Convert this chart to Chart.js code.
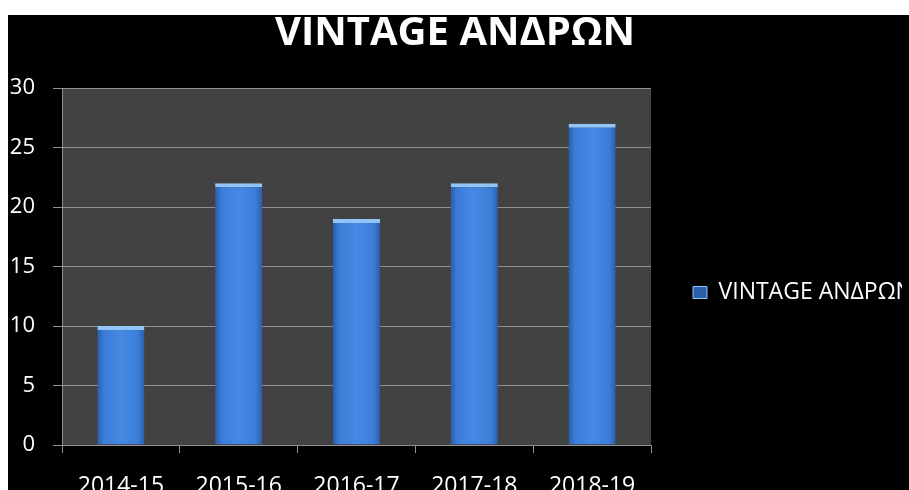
<!DOCTYPE html>
<html>
<head>
<meta charset="utf-8">
<script src="https://cdn.jsdelivr.net/npm/chart.js@4/dist/chart.umd.min.js"></script>
<style>
  html, body { margin: 0; padding: 0; background: #fff; overflow: hidden; width: 909px; height: 490px; }
  #wrap { position: absolute; left: 8px; top: 15px; width: 960px; height: 555px; background: #000; }
</style>
</head>
<body>
<div id="wrap"><canvas id="chart"></canvas></div>
<script>
const titel = "VINTAGE ΑΝΔΡΩΝ";
const jahre = ["2014-15", "2015-16", "2016-17", "2017-18", "2018-19"];
const werte = [10, 22, 19, 22, 27];
const yTicks = [0, 5, 10, 15, 20, 25, 30];

const schrift = "'Open Sans', 'DejaVu Sans', sans-serif";
const gitter = "#909090";

// dunkles Feld hinter den Balken
const plotHintergrund = {
  id: "plotHintergrund",
  beforeDraw(chart) {
    const a = chart.chartArea;
    const c = chart.ctx;
    c.save();
    c.fillStyle = "#424242";
    c.fillRect(a.left, a.top, a.right - a.left, a.bottom - a.top);
    c.restore();
  }
};

function balkenFarbe(ctx) {
  if (ctx.type !== "data" || !ctx.chart.chartArea) return "#3c7ed8";
  const xs = ctx.chart.scales.x;
  const cx = xs.getPixelForValue(ctx.dataIndex);
  const w = xs.width / jahre.length * 0.4;
  const g = ctx.chart.ctx.createLinearGradient(cx - w / 2, 0, cx + w / 2, 0);
  g.addColorStop(0, "#2b5eab");
  g.addColorStop(0.14, "#3b7dd8");
  g.addColorStop(0.5, "#4689e3");
  g.addColorStop(0.86, "#3b7dd8");
  g.addColorStop(1, "#2b5eab");
  return g;
}

new Chart(document.getElementById("chart"), {
  type: "bar",
  data: {
    labels: jahre,
    datasets: [{
      label: titel,
      data: werte,
      backgroundColor: balkenFarbe,
      borderColor: "#93c4f7",
      borderWidth: { top: 4, left: 0, right: 0, bottom: 0 },
      categoryPercentage: 0.8,
      barPercentage: 0.5
    }]
  },
  options: {
    responsive: true,
    maintainAspectRatio: false,
    animation: false,
    layout: { padding: { left: 0, top: 0, bottom: 0, right: 66 } },
    plugins: {
      title: {
        display: true,
        text: titel,
        color: "#fff",
        font: { family: schrift, size: 40, weight: "bold", lineHeight: 0.8 },
        padding: { top: 3, bottom: 38 }
      },
      legend: {
        position: "right",
        maxWidth: 251,
        labels: {
          color: "#fff",
          boxWidth: 14,
          boxHeight: 12,
          padding: 42,
          font: { family: schrift, size: 23 }
        }
      },
      tooltip: { enabled: false }
    },
    scales: {
      x: {
        afterFit(s) { s.height = 125; },
        grid: { display: true, offset: true, drawOnChartArea: false, drawTicks: true, tickLength: 8, color: gitter },
        border: { display: true, color: gitter },
        ticks: { color: "#fff", padding: 20, font: { family: schrift, size: 23 } }
      },
      y: {
        min: yTicks[0],
        max: yTicks[yTicks.length - 1],
        afterFit(s) { s.width = 54; },
        afterBuildTicks(s) { s.ticks = yTicks.map(v => ({ value: v })); },
        grid: { color: gitter, tickLength: 9 },
        border: { display: true, color: gitter },
        ticks: { color: "#fff", padding: 18, font: { family: schrift, size: 22 } }
      }
    }
  },
  plugins: [plotHintergrund]
});
</script>
</body>
</html>
